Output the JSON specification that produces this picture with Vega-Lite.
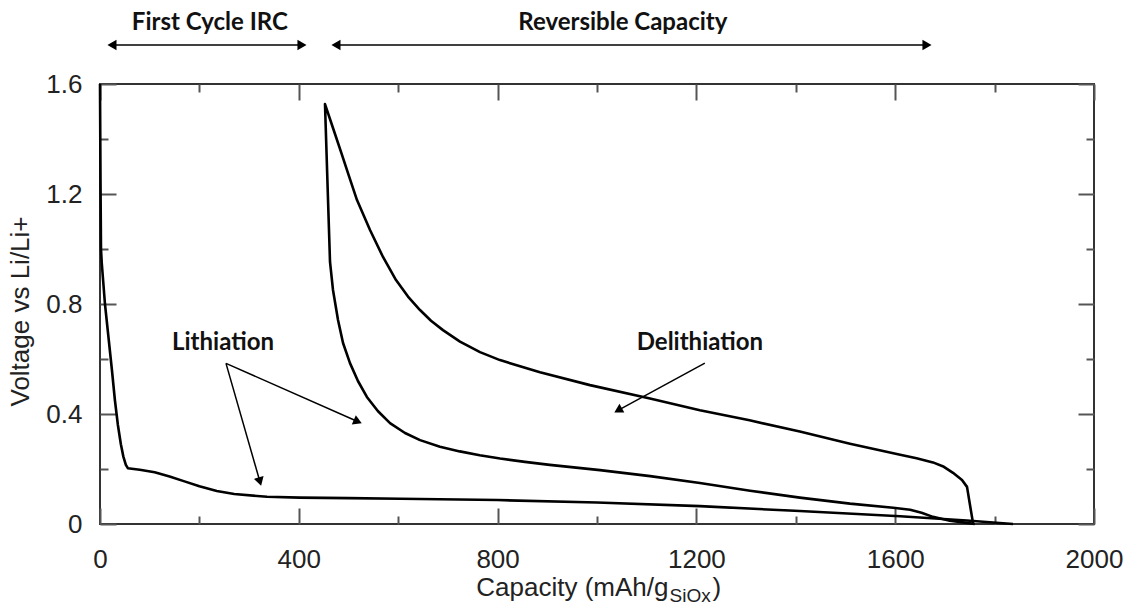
{
  "$schema": "https://vega.github.io/schema/vega-lite/v6.json",
  "width": 994,
  "height": 440,
  "autosize": {"type": "none"},
  "padding": {"left": 100, "top": 84, "right": 41, "bottom": 80},
  "background": "white",
  "config": {
    "view": {"stroke": "#333", "strokeWidth": 2},
    "axis": {
      "grid": false,
      "domain": false,
      "tickColor": "#555",
      "tickWidth": 2,
      "labelFont": "Liberation Sans",
      "labelFontSize": 26,
      "labelColor": "#222",
      "labelFlush": false,
      "labelOverlap": false,
      "titleFont": "Liberation Sans",
      "titleFontSize": 26,
      "titleFontWeight": "normal",
      "titleColor": "#222"
    }
  },
  "resolve": {"axis": {"x": "independent", "y": "independent"}},
  "datasets": {
    "curves": [
      {"s": "lith1", "i": 1, "cap": 0, "v": 1.6},
      {"s": "lith1", "i": 2, "cap": 1, "v": 1.25},
      {"s": "lith1", "i": 3, "cap": 2, "v": 1.0},
      {"s": "lith1", "i": 4, "cap": 3.5, "v": 0.95},
      {"s": "lith1", "i": 5, "cap": 10, "v": 0.8},
      {"s": "lith1", "i": 6, "cap": 17, "v": 0.68},
      {"s": "lith1", "i": 7, "cap": 24, "v": 0.56},
      {"s": "lith1", "i": 8, "cap": 30, "v": 0.45},
      {"s": "lith1", "i": 9, "cap": 36, "v": 0.36},
      {"s": "lith1", "i": 10, "cap": 42, "v": 0.29},
      {"s": "lith1", "i": 11, "cap": 47, "v": 0.245},
      {"s": "lith1", "i": 12, "cap": 52, "v": 0.215},
      {"s": "lith1", "i": 13, "cap": 56, "v": 0.203},
      {"s": "lith1", "i": 14, "cap": 80, "v": 0.197},
      {"s": "lith1", "i": 15, "cap": 110, "v": 0.188},
      {"s": "lith1", "i": 16, "cap": 140, "v": 0.173},
      {"s": "lith1", "i": 17, "cap": 170, "v": 0.155},
      {"s": "lith1", "i": 18, "cap": 200, "v": 0.137},
      {"s": "lith1", "i": 19, "cap": 235, "v": 0.12},
      {"s": "lith1", "i": 20, "cap": 270, "v": 0.109},
      {"s": "lith1", "i": 21, "cap": 336, "v": 0.099},
      {"s": "lith1", "i": 22, "cap": 402, "v": 0.096},
      {"s": "lith1", "i": 23, "cap": 500, "v": 0.094},
      {"s": "lith1", "i": 24, "cap": 604, "v": 0.092},
      {"s": "lith1", "i": 25, "cap": 800, "v": 0.087},
      {"s": "lith1", "i": 26, "cap": 1000, "v": 0.078},
      {"s": "lith1", "i": 27, "cap": 1207, "v": 0.065},
      {"s": "lith1", "i": 28, "cap": 1408, "v": 0.047},
      {"s": "lith1", "i": 29, "cap": 1610, "v": 0.028},
      {"s": "lith1", "i": 30, "cap": 1744, "v": 0.013},
      {"s": "lith1", "i": 31, "cap": 1837, "v": 0},
      {"s": "c2", "i": 1, "cap": 1756.5, "v": 0.004},
      {"s": "c2", "i": 2, "cap": 1750.5, "v": 0.069},
      {"s": "c2", "i": 3, "cap": 1744.5, "v": 0.135},
      {"s": "c2", "i": 4, "cap": 1734.4, "v": 0.16},
      {"s": "c2", "i": 5, "cap": 1716.3, "v": 0.186},
      {"s": "c2", "i": 6, "cap": 1698, "v": 0.208},
      {"s": "c2", "i": 7, "cap": 1676, "v": 0.224},
      {"s": "c2", "i": 8, "cap": 1643, "v": 0.239},
      {"s": "c2", "i": 9, "cap": 1610, "v": 0.252},
      {"s": "c2", "i": 10, "cap": 1509, "v": 0.292},
      {"s": "c2", "i": 11, "cap": 1408, "v": 0.336},
      {"s": "c2", "i": 12, "cap": 1307, "v": 0.377},
      {"s": "c2", "i": 13, "cap": 1207, "v": 0.414},
      {"s": "c2", "i": 14, "cap": 1106.6, "v": 0.456},
      {"s": "c2", "i": 15, "cap": 985.9, "v": 0.505},
      {"s": "c2", "i": 16, "cap": 885.3, "v": 0.552},
      {"s": "c2", "i": 17, "cap": 804.8, "v": 0.596},
      {"s": "c2", "i": 18, "cap": 764.6, "v": 0.625},
      {"s": "c2", "i": 19, "cap": 724.3, "v": 0.663},
      {"s": "c2", "i": 20, "cap": 690.1, "v": 0.705},
      {"s": "c2", "i": 21, "cap": 666, "v": 0.739},
      {"s": "c2", "i": 22, "cap": 643.9, "v": 0.778},
      {"s": "c2", "i": 23, "cap": 619.7, "v": 0.827},
      {"s": "c2", "i": 24, "cap": 595.6, "v": 0.887},
      {"s": "c2", "i": 25, "cap": 569.4, "v": 0.971},
      {"s": "c2", "i": 26, "cap": 543.3, "v": 1.069},
      {"s": "c2", "i": 27, "cap": 517.1, "v": 1.178},
      {"s": "c2", "i": 28, "cap": 501, "v": 1.265},
      {"s": "c2", "i": 29, "cap": 484.9, "v": 1.353},
      {"s": "c2", "i": 30, "cap": 468.8, "v": 1.44},
      {"s": "c2", "i": 31, "cap": 452.7, "v": 1.527},
      {"s": "c2", "i": 32, "cap": 458.8, "v": 1.178},
      {"s": "c2", "i": 33, "cap": 462.8, "v": 0.953},
      {"s": "c2", "i": 34, "cap": 468.8, "v": 0.851},
      {"s": "c2", "i": 35, "cap": 478.9, "v": 0.742},
      {"s": "c2", "i": 36, "cap": 489, "v": 0.658},
      {"s": "c2", "i": 37, "cap": 503, "v": 0.585},
      {"s": "c2", "i": 38, "cap": 519, "v": 0.52},
      {"s": "c2", "i": 39, "cap": 537, "v": 0.462},
      {"s": "c2", "i": 40, "cap": 559, "v": 0.411},
      {"s": "c2", "i": 41, "cap": 583.5, "v": 0.367},
      {"s": "c2", "i": 42, "cap": 613.7, "v": 0.331},
      {"s": "c2", "i": 43, "cap": 644, "v": 0.305},
      {"s": "c2", "i": 44, "cap": 684, "v": 0.281},
      {"s": "c2", "i": 45, "cap": 724, "v": 0.264},
      {"s": "c2", "i": 46, "cap": 764, "v": 0.25},
      {"s": "c2", "i": 47, "cap": 805, "v": 0.238},
      {"s": "c2", "i": 48, "cap": 855, "v": 0.226},
      {"s": "c2", "i": 49, "cap": 905, "v": 0.215},
      {"s": "c2", "i": 50, "cap": 1006, "v": 0.196},
      {"s": "c2", "i": 51, "cap": 1107, "v": 0.174},
      {"s": "c2", "i": 52, "cap": 1207, "v": 0.149},
      {"s": "c2", "i": 53, "cap": 1308, "v": 0.121},
      {"s": "c2", "i": 54, "cap": 1408, "v": 0.096},
      {"s": "c2", "i": 55, "cap": 1509, "v": 0.074},
      {"s": "c2", "i": 56, "cap": 1596, "v": 0.059},
      {"s": "c2", "i": 57, "cap": 1630, "v": 0.052},
      {"s": "c2", "i": 58, "cap": 1653, "v": 0.041},
      {"s": "c2", "i": 59, "cap": 1676, "v": 0.026},
      {"s": "c2", "i": 60, "cap": 1710, "v": 0.012},
      {"s": "c2", "i": 61, "cap": 1744, "v": 0.004},
      {"s": "c2", "i": 62, "cap": 1760, "v": 0}
    ],
    "hArrows": [
      {"arrow": "First Cycle IRC", "x1": 24, "x2": 406, "y": 1.742},
      {"arrow": "Reversible Capacity", "x1": 475, "x2": 1664, "y": 1.742}
    ],
    "sArrows": [
      {"arrow": "lith1", "x1": 253.5, "y1": 0.584, "x2": 321, "y2": 0.159},
      {"arrow": "lith2", "x1": 253.5, "y1": 0.584, "x2": 516, "y2": 0.3745},
      {"arrow": "delith", "x1": 1217, "y1": 0.585, "x2": 1045, "y2": 0.416}
    ],
    "heads": [
      {"arrow": "First Cycle IRC", "end": "left", "x": 24.1, "y": 1.742},
      {"arrow": "First Cycle IRC", "end": "right", "x": 406.4, "y": 1.742},
      {"arrow": "Reversible Capacity", "end": "left", "x": 474.8, "y": 1.742},
      {"arrow": "Reversible Capacity", "end": "right", "x": 1664, "y": 1.742},
      {"arrow": "lith1", "end": "tip", "x": 321, "y": 0.159},
      {"arrow": "lith2", "end": "tip", "x": 516, "y": 0.3745},
      {"arrow": "delith", "end": "tip", "x": 1045, "y": 0.416}
    ],
    "labels": [
      {"text": "First Cycle IRC", "x": 221, "y": 1.796},
      {"text": "Reversible Capacity", "x": 1052, "y": 1.796},
      {"text": "Lithiation", "x": 247.5, "y": 0.633},
      {"text": "Delithiation", "x": 1207, "y": 0.633}
    ]
  },
  "layer": [
    {
      "data": {"name": "curves"},
      "mark": {"type": "line", "color": "black", "strokeWidth": 2.6, "strokeJoin": "round", "clip": false},
      "encoding": {
        "x": {
          "field": "cap", "type": "quantitative",
          "scale": {"domain": [0, 2000], "nice": false, "zero": false},
          "axis": {
            "orient": "bottom", "values": [0, 400, 800, 1200, 1600, 2000], "format": "d",
            "ticks": false, "labelPadding": 43, "labelBaseline": "alphabetic",
            "title": "Capacity (mAh/g", "titleAlign": "right", "titleX": 568, "titleY": 71, "titleBaseline": "alphabetic"
          }
        },
        "y": {
          "field": "v", "type": "quantitative",
          "scale": {"domain": [0, 1.6], "nice": false, "zero": false},
          "axis": {
            "orient": "left", "values": [0, 0.4, 0.8, 1.2, 1.6], "format": "~g",
            "ticks": false, "labelPadding": 18,
            "title": "Voltage vs Li/Li+", "titleX": -72, "titleY": 227, "titleBaseline": "alphabetic", "titleAngle": -90, "titleAlign": "center"
          }
        },
        "detail": {"field": "s", "type": "nominal"},
        "order": {"field": "i", "type": "quantitative"}
      }
    },
    {
      "data": {"name": "hArrows"},
      "mark": {"type": "rule", "color": "black", "strokeWidth": 1.5},
      "encoding": {
        "x": {
          "field": "x1", "type": "quantitative",
          "axis": {
            "orient": "bottom", "values": [0, 400, 800, 1200, 1600, 2000], "labels": false, "tickSize": -16,
            "title": "SiOx", "titleFontSize": 19, "titleAlign": "left", "titleX": 569, "titleY": 77, "titleBaseline": "alphabetic"
          }
        },
        "x2": {"field": "x2"},
        "y": {
          "field": "y", "type": "quantitative",
          "axis": {"orient": "left", "values": [0, 0.4, 0.8, 1.2, 1.6], "labels": false, "tickSize": -16, "title": null}
        }
      }
    },
    {
      "data": {"name": "sArrows"},
      "mark": {"type": "rule", "color": "black", "strokeWidth": 1.5},
      "encoding": {
        "x": {
          "field": "x1", "type": "quantitative",
          "axis": {
            "orient": "bottom", "values": [200, 600, 1000, 1400, 1800], "labels": false, "tickSize": -8,
            "title": ")", "titleAlign": "left", "titleX": 612, "titleY": 71, "titleBaseline": "alphabetic"
          }
        },
        "x2": {"field": "x2"},
        "y": {
          "field": "y1", "type": "quantitative",
          "axis": {"orient": "left", "values": [0.2, 0.6, 1.0, 1.4], "labels": false, "tickSize": -8, "title": null}
        },
        "y2": {"field": "y2"}
      }
    },
    {
      "data": {"name": "heads"},
      "transform": [{"filter": "datum.end == 'left'"}],
      "mark": {"type": "point", "shape": "triangle-left", "filled": true, "color": "black", "size": 110, "opacity": 1},
      "encoding": {
        "x": {
          "field": "x", "type": "quantitative",
          "axis": {"orient": "top", "values": [0, 400, 800, 1200, 1600, 2000], "labels": false, "tickSize": -16, "title": null}
        },
        "y": {
          "field": "y", "type": "quantitative",
          "axis": {"orient": "right", "values": [0, 0.4, 0.8, 1.2, 1.6], "labels": false, "tickSize": -16, "title": null}
        }
      }
    },
    {
      "data": {"name": "heads"},
      "transform": [{"filter": "datum.end == 'right'"}],
      "mark": {"type": "point", "shape": "triangle-right", "filled": true, "color": "black", "size": 110, "opacity": 1},
      "encoding": {
        "x": {
          "field": "x", "type": "quantitative",
          "axis": {"orient": "top", "values": [200, 600, 1000, 1400, 1800], "labels": false, "tickSize": -8, "title": null}
        },
        "y": {
          "field": "y", "type": "quantitative",
          "axis": {"orient": "right", "values": [0.2, 0.6, 1.0, 1.4], "labels": false, "tickSize": -8, "title": null}
        }
      }
    },
    {
      "data": {"name": "heads"},
      "transform": [{"filter": "datum.arrow == 'lith1'"}],
      "mark": {"type": "point", "shape": "triangle", "filled": true, "color": "black", "size": 100, "opacity": 1, "angle": 164},
      "encoding": {
        "x": {"field": "x", "type": "quantitative", "axis": null},
        "y": {"field": "y", "type": "quantitative", "axis": null}
      }
    },
    {
      "data": {"name": "heads"},
      "transform": [{"filter": "datum.arrow == 'lith2'"}],
      "mark": {"type": "point", "shape": "triangle", "filled": true, "color": "black", "size": 100, "opacity": 1, "angle": 114},
      "encoding": {
        "x": {"field": "x", "type": "quantitative", "axis": null},
        "y": {"field": "y", "type": "quantitative", "axis": null}
      }
    },
    {
      "data": {"name": "heads"},
      "transform": [{"filter": "datum.arrow == 'delith'"}],
      "mark": {"type": "point", "shape": "triangle", "filled": true, "color": "black", "size": 100, "opacity": 1, "angle": 241},
      "encoding": {
        "x": {"field": "x", "type": "quantitative", "axis": null},
        "y": {"field": "y", "type": "quantitative", "axis": null}
      }
    },
    {
      "data": {"name": "labels"},
      "mark": {"type": "text", "font": "Lato", "fontWeight": "bold", "fontSize": 24, "color": "#111", "align": "center", "baseline": "alphabetic"},
      "encoding": {
        "x": {"field": "x", "type": "quantitative", "axis": null},
        "y": {"field": "y", "type": "quantitative", "axis": null},
        "text": {"field": "text", "type": "nominal"}
      }
    }
  ]
}
